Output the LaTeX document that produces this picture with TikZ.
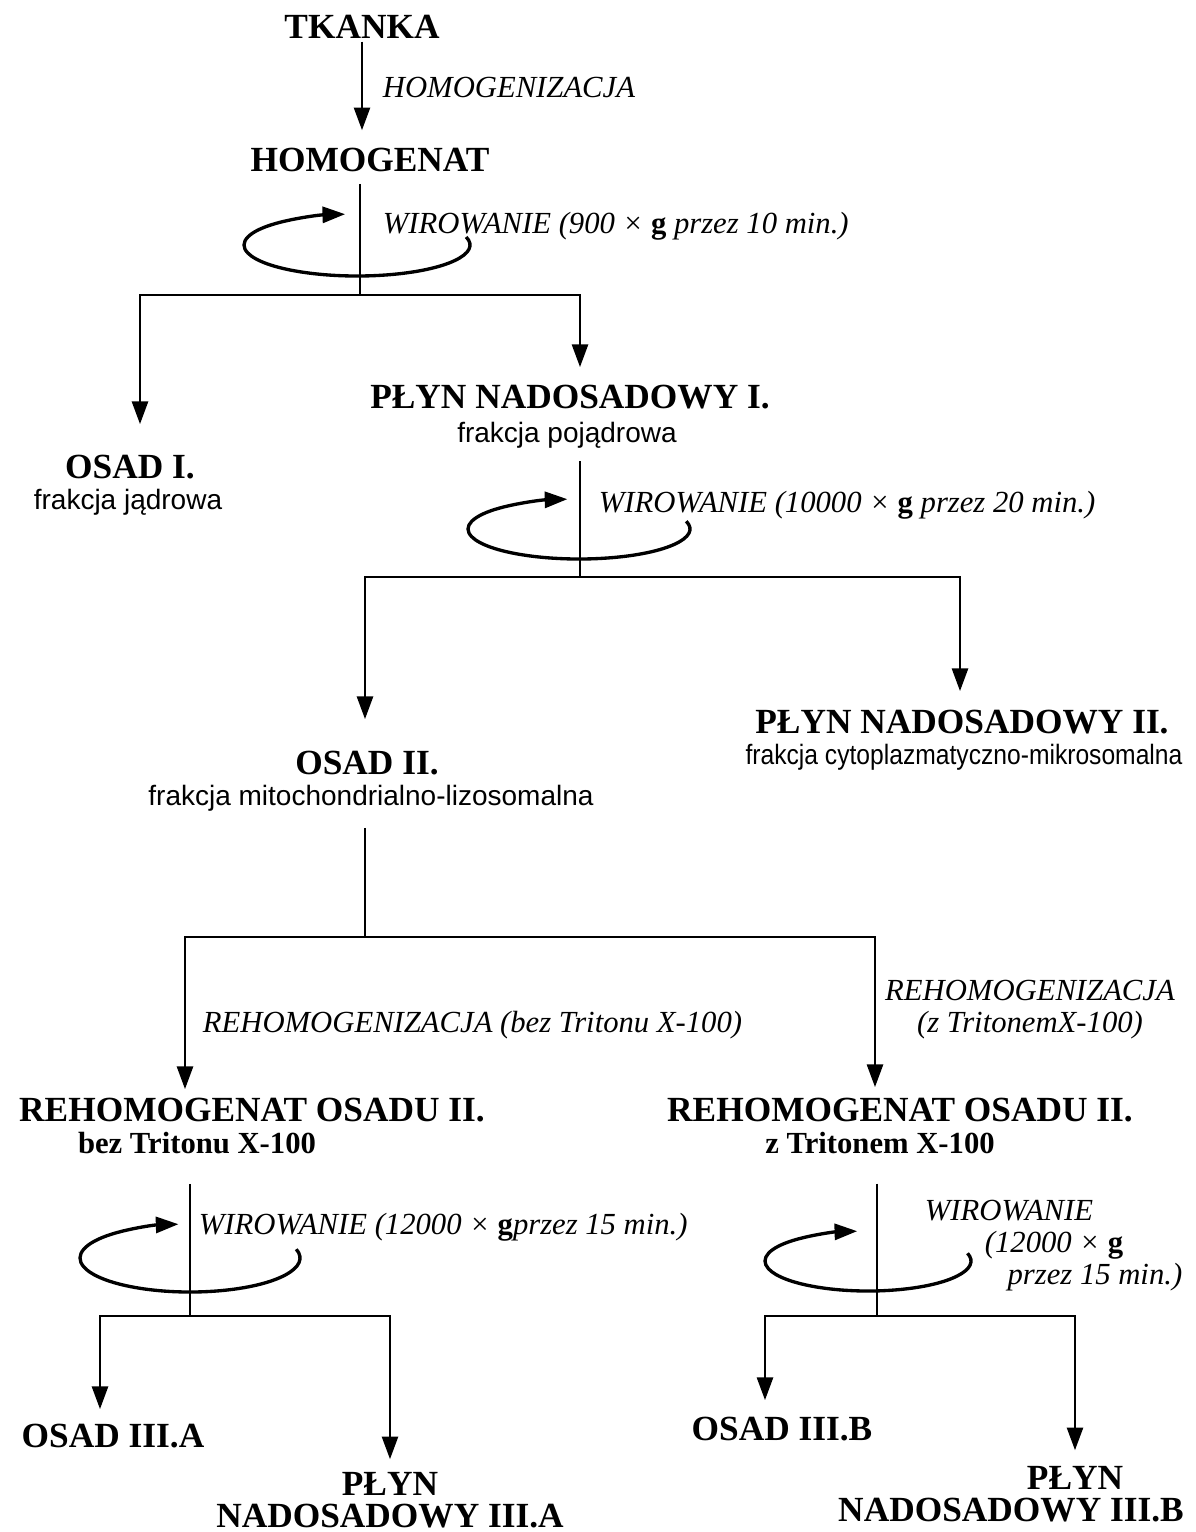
\documentclass[tikz,border=0pt]{standalone}
\usepackage{fontspec}
\setmainfont{Liberation Serif}
\setsansfont{Liberation Sans}
\usetikzlibrary{arrows.meta}
\usetikzlibrary{calc}
\tikzstyle{naglowek}=[font=\fontsize{26.5}{24}\selectfont\bfseries,inner sep=2pt,align=center]
\tikzstyle{frakcja}=[font=\fontsize{21}{24}\selectfont\sffamily,inner sep=2pt]
\tikzstyle{triton}=[font=\fontsize{23}{26}\selectfont\bfseries,inner sep=2pt]
\tikzstyle{etap}=[font=\fontsize{23}{24}\selectfont\itshape,inner sep=2pt]
\tikzstyle{linia}=[line width=1.9pt]
\tikzstyle{obrot}=[line width=2.5pt,->]

\begin{document}
\begin{tikzpicture}[x=0.75pt, y=-0.75pt, >={Triangle[length=17pt,width=12pt]}]
\useasboundingbox (0,0) rectangle (1196,1532);

% frakcje
\foreach \n/\x/\y/\t in {tkanka/362/27/TKANKA, homogenat/370/160/HOMOGENAT,
    plyn-1/570/397/PŁYN NADOSADOWY I., osad-1/130/467/OSAD I.,
    plyn-2/962/722/PŁYN NADOSADOWY II., osad-2/367/763/OSAD II.,
    rehom-a/252/1110/REHOMOGENAT OSADU II., rehom-b/900/1110/REHOMOGENAT OSADU II.,
    osad-3a/113/1436/OSAD III.A, plyn-3a/390/1500/PŁYN\\NADOSADOWY III.A,
    osad-3b/782/1429/OSAD III.B, plyn-3b/1011/1494/\hspace*{96pt}PŁYN\\NADOSADOWY III.B}
  \node [naglowek] (\n) at (\x,\y) {\t};

\foreach \n/\x/\y/\t in {osad-1/128/502/frakcja jądrowa, plyn-1/567/435/frakcja pojądrowa,
    osad-2/371/798/frakcja mitochondrialno-lizosomalna}
  \node [frakcja] (\n-opis) at (\x,\y) {\t};
\node [frakcja] (plyn-2-opis) at (964,757) {\scalebox{0.88}[1]{frakcja cytoplazmatyczno-mikrosomalna}};

\node [triton] (rehom-a-opis) at (197,1143) {bez Tritonu X-100};
\node [triton] (rehom-b-opis) at (880,1143) {z Tritonem X-100};

% etapy
\node [etap, anchor=west] (homogenizacja) at (380,87) {HOMOGENIZACJA};
\node [etap, anchor=west] (wir-1) at (380,226) {WIROWANIE (900 × {\upshape\bfseries g} przez 10 min.)};
\node [etap, anchor=west] (wir-2) at (596,505) {WIROWANIE (10000 × {\upshape\bfseries g} przez 20 min.)};
\node [etap, anchor=west] (rehomogenizacja-a) at (200,1025) {REHOMOGENIZACJA (bez Tritonu X-100)};
\node [etap, align=center] (rehomogenizacja-b) at (1030,1010) {REHOMOGENIZACJA\\(z TritonemX-100)};
\node [etap, anchor=west] (wir-3) at (196,1227) {WIROWANIE (12000 × {\upshape\bfseries g}przez 15 min.)};
\node [etap, align=left, anchor=north west] (wir-4) at (922,1197)
  {WIROWANIE\\\hspace*{45pt}(12000 × {\upshape\bfseries g}\\\hspace*{62pt}przez 15 min.)};

\coordinate (split-1) at (360,295);
\coordinate (split-2) at (580,577);
\coordinate (split-3) at (365,937);
\coordinate (split-4) at (190,1316);
\coordinate (split-5) at (877,1316);

\draw [linia,->] (tkanka.south) -- ($(tkanka.south |- homogenat.north)+(0,-15)$);

\draw [linia] ($(homogenat.south -| split-1)+(0,9)$) -- (split-1);
\draw [linia] ($(plyn-1-opis.south -| split-2)+(0,10)$) -- (split-2);
\draw [linia] ($(osad-2-opis.south -| split-3)+(0,14)$) -- (split-3);
\draw [linia] ($(rehom-a-opis.south -| split-4)+(0,27)$) -- (split-4);
\draw [linia] ($(rehom-b-opis.south -| split-5)+(0,27)$) -- (split-5);

\foreach \s/\n/\dx/\dy in {split-1/osad-1/10/-28, split-1/plyn-1/10/-15,
    split-2/osad-2/-2/-29, split-2/plyn-2/-2/-16,
    split-3/rehom-a/-67/-6, split-3/rehom-b/-25/-8,
    split-4/osad-3a/-13/-12, split-4/plyn-3a/0/-10,
    split-5/osad-3b/-17/-14, split-5/plyn-3b/64/-13}
  \draw [linia,->] (\s) -| ($(\n.north)+(\dx,\dy)$);

% wirowanie
\foreach \x/\y/\a/\b [count=\i] in {357/245/113/31, 579/529/111/30, 190/1258/110/34, 868/1261/103/30}
  \draw [obrot] (\x,\y) ++(-15:\a\space and \b) arc [start angle=-15, end angle=264, x radius=\a, y radius=\b];

\end{tikzpicture}
\end{document}
